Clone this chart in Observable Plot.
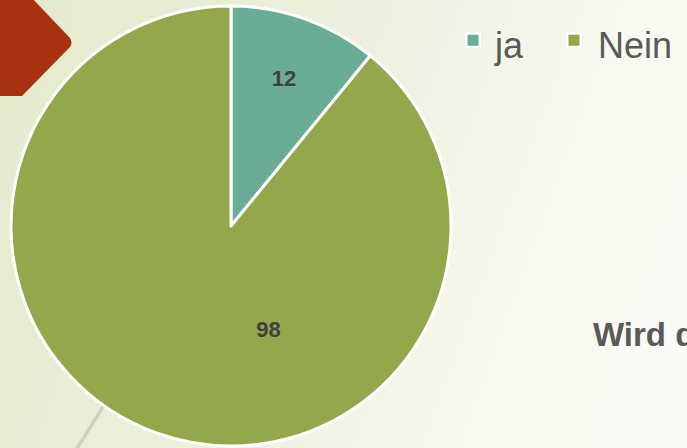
<!DOCTYPE html>
<html>
<head>
<meta charset="utf-8">
<script src="https://cdn.jsdelivr.net/npm/d3@7"></script>
<script src="https://cdn.jsdelivr.net/npm/@observablehq/plot@0.6"></script>
<style>
  html, body { margin: 0; padding: 0; }
  body {
    width: 687px; height: 448px; overflow: hidden; position: relative;
    background: linear-gradient(110deg, #e2eacb 0%, #edf1de 45%, #f7f8ef 75%, #fbfbf6 100%);
    font-family: "Liberation Sans", Arial, sans-serif;
  }
  #deco, #chart, #overlay { position: absolute; left: 0; top: 0; }
  #chart svg { background: transparent; }
</style>
</head>
<body>
<svg id="deco" width="687" height="448">
  <line x1="160" y1="316" x2="76" y2="450" stroke="#d0d1c2" stroke-width="3.5"/>
  <path d="M0,-5 L29,-5 L70,38 Q73,43 70,47 L22,96 L0,96 Z" fill="#a8310f"/>
</svg>
<div id="chart"></div>
<svg id="overlay" width="687" height="448"></svg>
<script>
// ---- data ----
const categories = ["ja", "Nein"];
const values = [12, 98];
const colors = ["#6aad96", "#93a84b"];
const titleText = "Wird d";

// ---- layout (not data) ----
const labelLayout = { ja: { r: 0.71, flip: false }, Nein: { r: 0.50, flip: true } };

const data = categories.map((c, i) => ({ key: c, value: values[i] }));
const arcs = d3.pie().sort(null).value(d => d.value)(data);
const color = Plot.scale({ color: { domain: categories, range: colors } });

const labels = arcs.map(a => {
  const L = labelLayout[a.data.key];
  let mid = (a.startAngle + a.endAngle) / 2;
  if (L.flip) mid = 2 * Math.PI - mid;
  return { key: a.data.key, value: a.data.value, x: L.r * Math.sin(mid), y: L.r * Math.cos(mid) };
});

const pieMark = (index, scales, values2, dimensions, context) => {
  const cx = scales.x(0), cy = scales.y(0);
  const R = scales.x(1) - scales.x(0);
  const arc = d3.arc().innerRadius(0).outerRadius(R);
  const g = d3.create("svg:g").attr("transform", `translate(${cx},${cy})`);
  g.selectAll("path").data(arcs).join("path")
    .attr("d", arc)
    .attr("fill", d => color.apply(d.data.key))
    .attr("stroke", "white")
    .attr("stroke-width", 3)
    .attr("stroke-linejoin", "round");
  return g.node();
};

const chart = Plot.plot({
  width: 687,
  height: 448,
  margin: 0,
  x: { domain: [-1, 1], range: [11, 451], axis: null },
  y: { domain: [-1, 1], range: [446, 6], axis: null },
  style: { background: "transparent", fontFamily: "Liberation Sans, Arial, sans-serif" },
  marks: [
    pieMark,
    Plot.text(labels, {
      x: "x", y: "y", text: d => String(d.value),
      fill: "#404040", fontSize: 22, fontWeight: "bold"
    })
  ]
});
document.getElementById("chart").appendChild(chart);

// ---- legend & title ----
const ov = d3.select("#overlay");
const legendItems = [
  { key: categories[0], sx: 465, tx: 495 },
  { key: categories[1], sx: 566, tx: 598 }
];
legendItems.forEach(it => {
  ov.append("rect").attr("x", it.sx + 1.25).attr("y", 33.5).attr("width", 13.5).attr("height", 13.5)
    .attr("fill", color.apply(it.key)).attr("stroke", "white").attr("stroke-width", 2.5);
  ov.append("text").attr("x", it.tx).attr("y", 58).text(it.key)
    .attr("font-family", "Liberation Sans, Arial, sans-serif").attr("font-size", 36).attr("fill", "#595959");
});
ov.append("text").attr("x", 593).attr("y", 346).text(titleText)
  .attr("font-family", "Liberation Sans, Arial, sans-serif").attr("font-size", 33)
  .attr("font-weight", "bold").attr("fill", "#595959");
</script>
</body>
</html>
